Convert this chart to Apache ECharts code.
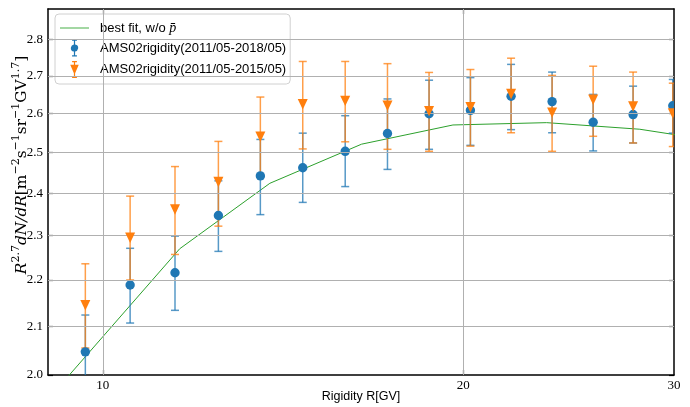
<!DOCTYPE html>
<html>
<head>
<meta charset="utf-8">
<script src="https://cdn.jsdelivr.net/npm/echarts@6/dist/echarts.min.js"></script>
<style>
  html, body { margin: 0; padding: 0; background: #fff; }
  #chart { width: 690px; height: 407px; }
</style>
</head>
<body>
<div id="chart"></div>
<script>
// rigidity bin centres [GV]
const rigidity = [9.67, 10.54, 11.49, 12.49, 13.54, 14.69, 15.94, 17.29, 18.73, 20.28, 21.93, 23.73, 25.68, 27.73, 29.93]

// AMS02 2011/05-2018/05
const ams18 = [2.047, 2.189, 2.216, 2.347, 2.442, 2.462, 2.503, 2.548, 2.599, 2.608, 2.645, 2.631, 2.577, 2.597, 2.620]
const ams18Low = [1.970, 2.107, 2.134, 2.264, 2.349, 2.378, 2.416, 2.458, 2.508, 2.518, 2.558, 2.550, 2.504, 2.524, 2.549]
const ams18High = [2.124, 2.271, 2.299, 2.430, 2.533, 2.549, 2.594, 2.638, 2.688, 2.695, 2.731, 2.710, 2.650, 2.672, 2.690]

// AMS02 2011/05-2015/05
const ams15 = [2.145, 2.295, 2.361, 2.427, 2.540, 2.624, 2.633, 2.620, 2.606, 2.616, 2.651, 2.602, 2.636, 2.618, 2.600]
const ams15Low = [2.055, 2.200, 2.257, 2.322, 2.440, 2.509, 2.527, 2.508, 2.503, 2.516, 2.550, 2.503, 2.541, 2.524, 2.515]
const ams15High = [2.236, 2.393, 2.465, 2.528, 2.643, 2.739, 2.739, 2.733, 2.709, 2.717, 2.748, 2.701, 2.726, 2.710, 2.680]

// best fit curve
const fitR = [8.13, 9.71, 11.595, 13.79, 16.45, 19.61, 23.48, 28.09, 33.5]
const fitVal = [1.837, 2.042, 2.270, 2.424, 2.521, 2.570, 2.576, 2.559, 2.523]

// ticks
const xTicks = [10, 20, 30]
const yTicks = [2.0, 2.1, 2.2, 2.3, 2.4, 2.5, 2.6, 2.7, 2.8]
const xGrid = [10, 20]
const yGrid = [2.1, 2.2, 2.3, 2.4, 2.5, 2.6, 2.7, 2.8]

const fitName = 'best fit, w/o p\u0304'
const name18 = 'AMS02rigidity(2011/05-2018/05)'
const name15 = 'AMS02rigidity(2011/05-2015/05)'
const blue = '#1f77b4'
const orange = '#ff7f0e'
const serif = '"Liberation Serif", "DejaVu Serif", serif'
const mathFont = '"DejaVu Serif", serif'
const sans = '"Liberation Sans", Arial, sans-serif'

const chart = echarts.init(document.getElementById('chart'))

function zip3 (a, b, c) {
  return a.map((v, i) => [v, b[i], c[i]])
}

function clipRect (params) {
  let cs = params.coordSys
  return { type: 'rect', shape: { x: cs.x, y: cs.y, width: cs.width, height: cs.height } }
}

function errorBars (color) {
  return function (params, api) {
    let x = api.value(0)
    let lo = api.coord([x, api.value(1)])
    let hi = api.coord([x, api.value(2)])
    let style = { stroke: color, lineWidth: 1.5, opacity: 0.75 }
    return {
      type: 'group',
      clipPath: clipRect(params),
      children: [
        { type: 'line', shape: { x1: lo[0], y1: lo[1], x2: hi[0], y2: hi[1] }, style: style },
        { type: 'line', shape: { x1: hi[0] - 4, y1: hi[1], x2: hi[0] + 4, y2: hi[1] }, style: style },
        { type: 'line', shape: { x1: lo[0] - 4, y1: lo[1], x2: lo[0] + 4, y2: lo[1] }, style: style }
      ]
    }
  }
}

function markers (kind, color) {
  return function (params, api) {
    let p = api.coord([api.value(0), api.value(1)])
    let shape
    if (kind === 'circle') {
      shape = { type: 'circle', shape: { cx: p[0], cy: p[1], r: 4.7 }, style: { fill: color } }
    } else {
      shape = {
        type: 'polygon',
        shape: { points: [[p[0] - 5, p[1] - 5.2], [p[0] + 5, p[1] - 5.2], [p[0], p[1] + 5.2]] },
        style: { fill: color }
      }
    }
    return { type: 'group', clipPath: clipRect(params), children: [shape] }
  }
}

// legend icons: marker with error bar
const circleIcon = 'path://M5,0H9V1H7.5V4.04A3,3 0 0 1 7.5,9.96V13H9V14H5V13H6.5V9.96A3,3 0 0 1 6.5,4.04V1H5Z'
const triIcon = 'path://M5,0H9V1H7.5V3H10.5L7.5,10V13H9V14H5V13H6.5V10L3.5,3H6.5V1H5Z'
const lineIcon = 'path://M0,0H29V1.6H0Z'

const yName = '{i|R}{s|2.7}{i|dN/dR}{r|[m}{s|\u22122}{r|s}{s|\u22121}{r|sr}{s|\u22121}{r|GV}{s|1.7}{r|]}'

let option = {
  animation: false,
  grid: { left: 48, right: 16, top: 9, bottom: 32, outerBoundsMode: 'none', containLabel: false },
  legend: {
    left: 55,
    top: 14,
    orient: 'vertical',
    itemWidth: 29,
    itemHeight: 17,
    itemGap: 4.5,
    padding: [7, 4, 6, 5],
    backgroundColor: 'rgba(255,255,255,0.85)',
    borderColor: '#d0d0d0',
    borderWidth: 1,
    borderRadius: 4,
    symbolKeepAspect: true,
    data: [
      { name: fitName, icon: lineIcon, itemStyle: { color: '#8ccd8c' } },
      { name: name18, icon: circleIcon, itemStyle: { color: blue } },
      { name: name15, icon: triIcon, itemStyle: { color: orange } }
    ],
    formatter: function (name) {
      if (name === fitName) return '{a|best fit, w/o }{p|p\u0304}'
      return name
    },
    textStyle: {
      fontFamily: sans,
      fontSize: 13,
      color: '#000',
      padding: [0, 0, 0, 6],
      rich: {
        a: { fontFamily: sans, fontSize: 13, color: '#000' },
        p: { fontFamily: serif, fontStyle: 'italic', fontSize: 14, color: '#000' }
      }
    }
  },
  xAxis: [
    {
      type: 'log',
      logBase: 10,
      min: 9,
      max: 30,
      name: 'Rigidity R[GV]',
      nameLocation: 'middle',
      nameGap: 15,
      nameMoveOverlap: false,
      nameTextStyle: { fontFamily: sans, fontSize: 12.5, color: '#000' },
      axisLine: { onZero: false, lineStyle: { color: '#000', width: 1.5 } },
      axisTick: { inside: true, length: 5, customValues: xGrid, lineStyle: { color: '#000', width: 1.2 } },
      axisLabel: { customValues: xTicks, fontFamily: serif, fontSize: 13, color: '#000', margin: 4, formatter: v => String(Math.round(v)) },
      splitLine: { show: false },
      minorTick: { show: false }
    },
    {
      type: 'log',
      logBase: 10,
      min: 9,
      max: 30,
      position: 'top',
      axisLine: { onZero: false, lineStyle: { color: '#000', width: 1.5 } },
      axisTick: { inside: true, length: 5, customValues: xGrid, lineStyle: { color: '#000', width: 1.2 } },
      axisLabel: { show: false },
      splitLine: { show: false }
    }
  ],
  yAxis: [
    {
      type: 'log',
      logBase: 10,
      min: 2.0,
      max: 2.887,
      name: yName,
      nameLocation: 'middle',
      nameRotate: 90,
      nameGap: 19,
      nameMoveOverlap: false,
      nameTextStyle: {
        padding: [0, 0, 0, 54],
        rich: {
          i: { fontFamily: mathFont, fontStyle: 'italic', fontSize: 15.4, color: '#000', lineHeight: 18, verticalAlign: 'bottom' },
          r: { fontFamily: mathFont, fontSize: 15.4, color: '#000', lineHeight: 18, verticalAlign: 'bottom' },
          s: { fontFamily: mathFont, fontSize: 11, color: '#000', lineHeight: 18, verticalAlign: 'top' }
        }
      },
      axisLine: { onZero: false, lineStyle: { color: '#000', width: 1.5 } },
      axisTick: { inside: true, length: 5, customValues: yTicks, lineStyle: { color: '#000', width: 1.2 } },
      axisLabel: { customValues: yTicks, fontFamily: serif, fontSize: 13, color: '#000', margin: 5, formatter: v => v.toFixed(1) },
      splitLine: { show: false },
      minorTick: { show: false }
    },
    {
      type: 'log',
      logBase: 10,
      min: 2.0,
      max: 2.887,
      position: 'right',
      axisLine: { onZero: false, lineStyle: { color: '#000', width: 1.5 } },
      axisTick: { inside: true, length: 5, customValues: yTicks, lineStyle: { color: '#000', width: 1.2 } },
      axisLabel: { show: false },
      splitLine: { show: false }
    }
  ],
  series: [
    {
      // grid lines drawn through the axes' scales
      type: 'line',
      data: [],
      silent: true,
      z: 0,
      markLine: {
        silent: true,
        symbol: 'none',
        label: { show: false },
        lineStyle: { color: '#b0b0b0', width: 1, type: 'solid' },
        data: xGrid.map(v => ({ xAxis: v })).concat(yGrid.map(v => ({ yAxis: v })))
      }
    },
    {
      name: fitName,
      type: 'line',
      data: fitR.map((r, i) => [r, fitVal[i]]),
      showSymbol: false,
      symbol: 'none',
      clip: true,
      z: 1,
      lineStyle: { color: '#2ca02c', width: 1 },
      itemStyle: { color: '#2ca02c' }
    },
    {
      name: name18,
      type: 'custom',
      renderItem: errorBars(blue),
      data: zip3(rigidity, ams18Low, ams18High),
      z: 2
    },
    {
      name: name15,
      type: 'custom',
      renderItem: errorBars(orange),
      data: zip3(rigidity, ams15Low, ams15High),
      z: 3
    },
    {
      name: name18,
      type: 'custom',
      renderItem: markers('circle', blue),
      data: rigidity.map((r, i) => [r, ams18[i]]),
      z: 4
    },
    {
      name: name15,
      type: 'custom',
      renderItem: markers('triangle', orange),
      data: rigidity.map((r, i) => [r, ams15[i]]),
      z: 5
    }
  ]
}

chart.setOption(option)
</script>
</body>
</html>
